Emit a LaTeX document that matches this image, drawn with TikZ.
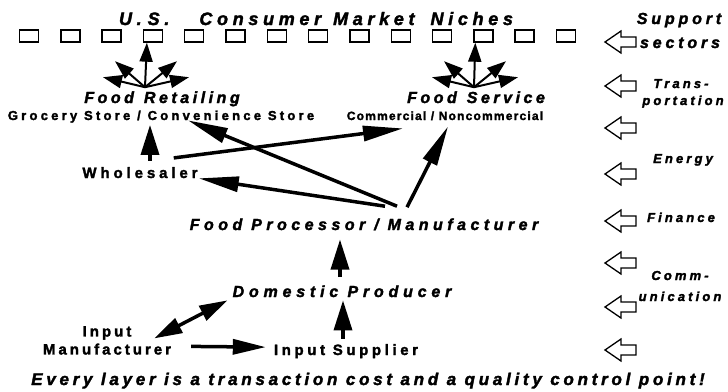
\documentclass[tikz,border=0pt]{standalone}
\usepackage{fontspec}
\setmainfont{Liberation Sans}
\usetikzlibrary{arrows.meta}
\newcommand\hvy[1]{\fontspec{Liberation Sans Bold}[LetterSpace=#1,FakeBold=2]}
\newcommand\hvyit[1]{\fontspec{Liberation Sans Bold Italic}[LetterSpace=#1,FakeBold=2]}
\tikzset{
  lbl/.style={inner sep=0pt, anchor=base},
  layer/.style={lbl, font=\fontsize{16}{19}\hvyit{#1}},
  layer/.default=28,
  firm/.style={lbl, font=\fontsize{15}{18}\hvy{#1}},
  firm/.default=25,
  sub/.style={lbl, font=\fontsize{13}{15}\hvy{#1}},
  sub/.default=25,
  sect/.style={lbl, font=\fontsize{13}{15}\hvyit{24}},
  niche/.style={draw, line width=1.4pt, minimum width=19pt, minimum height=12pt, inner sep=0pt},
  flow/.style={line width=3.5pt, -{Triangle[length=30pt,width=18pt]}},
  longflow/.style={line width=3.5pt, -{Triangle[length=40pt,width=15pt]}},
  fan/.style={line width=2pt, -{Triangle[length=19pt,width=13pt]}},
  supply/.style={draw, line width=1.3pt, line join=miter}
}
\begin{document}
\begin{tikzpicture}[x=1pt,y=-1pt]
  \useasboundingbox (0,0) rectangle (728,391);

  % market niches
  \node[lbl, font=\fontsize{18}{21}\hvyit{26}] (title) at (316,25)
    {U.\hspace{6pt}S.\hspace{30pt}Consumer\hspace{12pt}Market\hspace{16pt}Niches};
  \foreach \i in {0,...,13}
    \node[niche] (n\i) at (29+41.3*\i,36) {};

  % layers of the chain
  \node[layer=22] (retail) at (162,103) {Food\hspace{10pt}Retailing};
  \node[sub] (groc) at (161,120) {Grocery Store / Convenience Store};
  \node[layer=22] (serv) at (476,103) {Food\hspace{10pt}Service};
  \node[lbl, font=\fontsize{12}{14}\hvy{10}] (comm) at (445,120) {Commercial / Noncommercial};
  \node[firm=26] (whole) at (140,178) {Wholesaler};
  \node[layer] (proc) at (364,230) {Food Processor / Manufacturer};
  \node[layer=30] (dom) at (342,297) {Domestic Producer};
  \node[firm=20, anchor=center, align=center] (inman) at (107,340.4) {Input\\Manufacturer};
  \node[firm=24] (sup) at (346,355) {Input Supplier};
  \node[lbl, font=\fontsize{17}{20}\hvyit{22}] (note) at (368,385)
    {Every layer is a transaction cost and a quality control point!};

  % support sectors
  \node[lbl, font=\fontsize{16}{19}\hvyit{24}] (supp) at (679,24) {Support};
  \node[lbl, font=\fontsize{16}{19}\hvyit{24}] (sect) at (680,48) {sectors};
  \node[sect] (trans) at (681,88) {Trans-};
  \node[sect] (port) at (683,105) {portation};
  \node[sect] (energy) at (683,163) {Energy};
  \node[sect] (fin) at (681,222) {Finance};
  \node[sect] (commu) at (680,280) {Comm-};
  \node[sect] (unic) at (680,301) {unication};
  \foreach \y in {42,86,128,174,221,263,307,350}
    \draw[supply] (605,\y) -- ++(16,-11) -- ++(0,6) -- ++(15,0) -- ++(0,10)
      -- ++(-15,0) -- ++(0,6) -- cycle;

  % fans into the niches
  \coordinate (rfan) at ([xshift=-17pt,yshift=4pt]retail.north);
  \draw[fan] (rfan) -- ([xshift=-6pt]n3.south);
  \draw[fan] (rfan) -- ++(-42,-10);
  \draw[fan] (rfan) -- ++(-30,-26);
  \draw[fan] (rfan) -- ++(32,-26);
  \draw[fan] (rfan) -- ++(44,-10);
  \coordinate (sfan) at ([xshift=-2pt,yshift=4pt]serv.north);
  \draw[fan] (sfan) -- ([xshift=-8pt]n11.south);
  \draw[fan] (sfan) -- ++(-42,-10);
  \draw[fan] (sfan) -- ++(-30,-26);
  \draw[fan] (sfan) -- ++(32,-26);
  \draw[fan] (sfan) -- ++(44,-10);

  % flows between layers
  \draw[flow] ([xshift=10pt,yshift=6pt]whole.north) -- ([xshift=-11pt,yshift=-2pt]groc.south);
  \draw[longflow] ([xshift=33pt,yshift=12pt]proc.north) -- ([xshift=27pt,yshift=2.5pt]groc.south);
  \draw[longflow] ([xshift=21pt,yshift=12pt]proc.north) -- ([xshift=1pt]whole.south east);
  \draw[longflow] ([xshift=-24pt,yshift=9pt]whole.north east) -- ([xshift=-42pt,yshift=-8pt]comm.south);
  \draw[longflow] ([xshift=43pt,yshift=11pt]proc.north) -- ([xshift=3pt,yshift=-6pt]comm.south);
  \draw[flow] ([xshift=-2pt,yshift=8pt]dom.north) -- ([xshift=-24pt,yshift=-9pt]proc.south);
  \draw[flow] ([xshift=-3pt,yshift=5pt]sup.north) -- ([xshift=1pt,yshift=-3pt]dom.south);
  \draw[flow, -{Triangle[length=33pt,width=15pt]}] ([xshift=20pt,yshift=-6pt]inman.east) -- ([xshift=-8pt,yshift=4pt]sup.west);
  \draw[flow, {Triangle[length=28pt,width=16pt]}-{Triangle[length=28pt,width=16pt]}]
    ([xshift=-17pt,yshift=2pt]inman.east) -- ([xshift=-5pt,yshift=-3pt]dom.south west);
\end{tikzpicture}
\end{document}
